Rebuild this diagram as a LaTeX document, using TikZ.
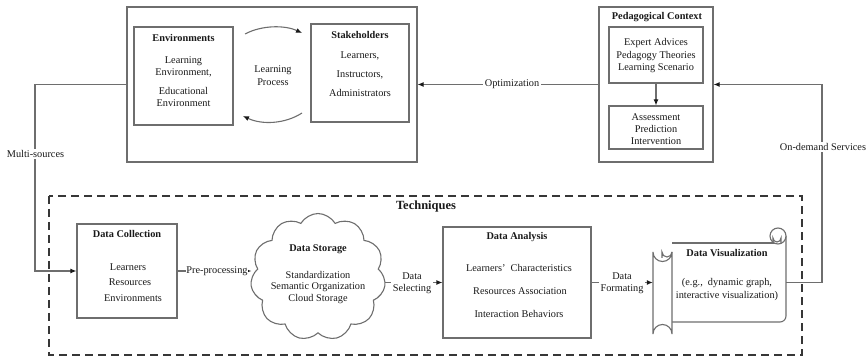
\documentclass[tikz,border=0pt]{standalone}
\usepackage{fontspec}
\setmainfont{Liberation Serif}
\usetikzlibrary{arrows.meta,shapes.symbols,calc}
\definecolor{linegray}{RGB}{110,110,110}
\definecolor{dashgray}{RGB}{55,55,55}
\definecolor{inkgray}{RGB}{25,25,25}
\tikzset{
  box/.style={draw=linegray, line width=1.1pt, rectangle, inner sep=0pt},
  txt/.style={inner sep=0pt, text=inkgray, font=\fontsize{10.3}{12}\selectfont},
  ttl/.style={inner sep=0pt, text=inkgray, font=\fontsize{10.3}{12}\selectfont\bfseries},
  link/.style={draw=linegray, line width=1.1pt},
  arr/.style={link, -{Latex[length=6pt,width=5pt,color=inkgray]}},
  lbl/.style={txt, fill=white, inner sep=1.5pt, align=center},
  scrollline/.style={draw=linegray, line width=1.1pt},
}
\begin{document}
\begin{tikzpicture}[x=1pt,y=-1pt]
\useasboundingbox (0,0) rectangle (868,358);

% ---------- upper part: learning context ----------
\node[box, minimum width=290pt, minimum height=155pt] (top) at (272,84.5) {};
\node[box, minimum width=99pt, minimum height=98pt] (env) at (183.5,76) {};
\node[box, minimum width=98pt, minimum height=98pt] (stake) at (360,73) {};

\node[ttl] (envT) at (183.5,38) {Environments};
\node[txt] (envA) at (183.5,61) {Learning};
\node[txt] (envB) at (183.5,73) {Environment,};
\node[txt] (envC) at (183.5,91) {Educational};
\node[txt] (envD) at (183.5,103) {Environment};

\node[ttl] (stT) at (360,35) {Stakeholders};
\node[txt] (stA) at (360,56) {Learners,};
\node[txt] (stB) at (360,75) {Instructors,};
\node[txt] (stC) at (360,93) {Administrators};

\node[txt] (lpA) at (273,70) {Learning};
\node[txt] (lpB) at (273,82) {Process};

% learning-process cycle between the two boxes
\coordinate (cyc1) at (245,34);
\coordinate (cyc2) at (302,33);
\coordinate (cyc3) at (302,113);
\coordinate (cyc4) at (243,116);
\draw[arr] (cyc1) .. controls (262,25) and (285,25) .. (cyc2);
\draw[arr] (cyc3) .. controls (285,124) and (262,125) .. (cyc4);

% ---------- pedagogical context ----------
\node[box, minimum width=114pt, minimum height=155pt] (ped) at (656,84.5) {};
\node[box, minimum width=94pt, minimum height=56pt] (pedA) at (656,55) {};
\node[box, minimum width=94pt, minimum height=43pt] (pedB) at (656,127.5) {};
\node[ttl] (pedT) at (657,17) {Pedagogical Context};
\node[txt] (pA1) at (656,43) {Expert Advices};
\node[txt] (pA2) at (656,56) {Pedagogy Theories};
\node[txt] (pA3) at (656,68) {Learning Scenario};
\node[txt] (pB1) at (656,117) {Assessment};
\node[txt] (pB2) at (656,129) {Prediction};
\node[txt] (pB3) at (656,141) {Intervention};
\draw[arr] (pedA.south) -- (pedB.north);

% ---------- techniques ----------
\draw[draw=dashgray, line width=1.7pt, dash pattern=on 8pt off 5pt] (49,196) rectangle (802,355);
\node[inner sep=0pt, text=inkgray, font=\fontsize{12.5}{14}\selectfont\bfseries] (tech) at (426,206) {Techniques};

% data collection
\node[box, minimum width=100pt, minimum height=94pt] (dc) at (127,271) {};
\node[ttl] (dcT) at (127,234) {Data Collection};
\node[txt] (dc1) at (128,267) {Learners};
\node[txt] (dc2) at (130,282) {Resources};
\node[txt] (dc3) at (133,298) {Environments};

% data storage
\node[cloud, cloud puffs=11, cloud puff arc=120, cloud ignores aspect, draw=linegray, line width=1.1pt,
      minimum width=135pt, minimum height=127pt, inner sep=0pt] (cloud) at (318,277) {};
\node[ttl] (csT) at (318,249) {Data Storage};
\node[txt] (cs1) at (318,275) {Standardization};
\node[txt] (cs2) at (318,287) {Semantic Organization};
\node[txt] (cs3) at (318,299) {Cloud Storage};

% data analysis
\node[box, minimum width=148pt, minimum height=111pt] (da) at (517,282.5) {};
\node[ttl] (daT) at (517,237) {Data Analysis};
\node[txt] (da1) at (519,268) {Learners’\ \ Characteristics};
\node[txt] (da2) at (520,291) {Resources Association};
\node[txt] (da3) at (519,314) {Interaction Behaviors};

% data visualization (scroll)
\node[inner sep=0pt, minimum width=133pt, minimum height=79pt] (vis) at (719.5,282.5) {};
% sheet
\fill[white] (672,243) rectangle (786,322);
\draw[scrollline] (672,243) -- (778,243);
\draw[scrollline] (786,236) -- (786,316) arc (0:90:6) -- (672,322);
% rolled top-right corner
\draw[scrollline, fill=white] (778,236) circle (8);
\draw[scrollline] (773,243) -- (773,238) arc (180:0:4) -- (781,243);
% rolled left edge
\draw[scrollline, fill=white] (653,252) arc (180:0:9.5) -- (672,334) arc (0:-180:9.5) -- cycle;
\draw[scrollline] (672,252) arc (0:180:5) -- (662,258);
\node[ttl] (dvT) at (727,253) {Data Visualization};
\node[txt] (dv1) at (727,283) {(e.g.,\ \ dynamic graph,};
\node[txt] (dv2) at (727,296) {interactive visualization)};

% ---------- connectors ----------
\draw[arr] (ped.west) -- (top.east);
\node[lbl] (optL) at (512,84.5) {Optimization};

\draw[arr] (top.west) -- (35,84.5) |- (dc.west);
\node[lbl] (msL) at (35.5,154) {Multi-sources};

\draw[arr] (vis.east) -- (822,282.5) |- (ped.east);
\node[lbl] (odL) at (823,147) {On-demand Services};

\draw[arr] (dc.east) -- (dc.east -| cloud.west);
\node[lbl, inner sep=0.5pt] (ppL) at (217,271) {Pre-processing};

\draw[arr] (da.west -| cloud.east) -- (da.west);
\node[lbl] (dsL) at (412,283) {Data\\[0pt]Selecting};

\draw[arr] (da.east) -- (vis.west);
\node[lbl] (dfL) at (622,283) {Data\\[0pt]Formating};
\end{tikzpicture}
\end{document}
